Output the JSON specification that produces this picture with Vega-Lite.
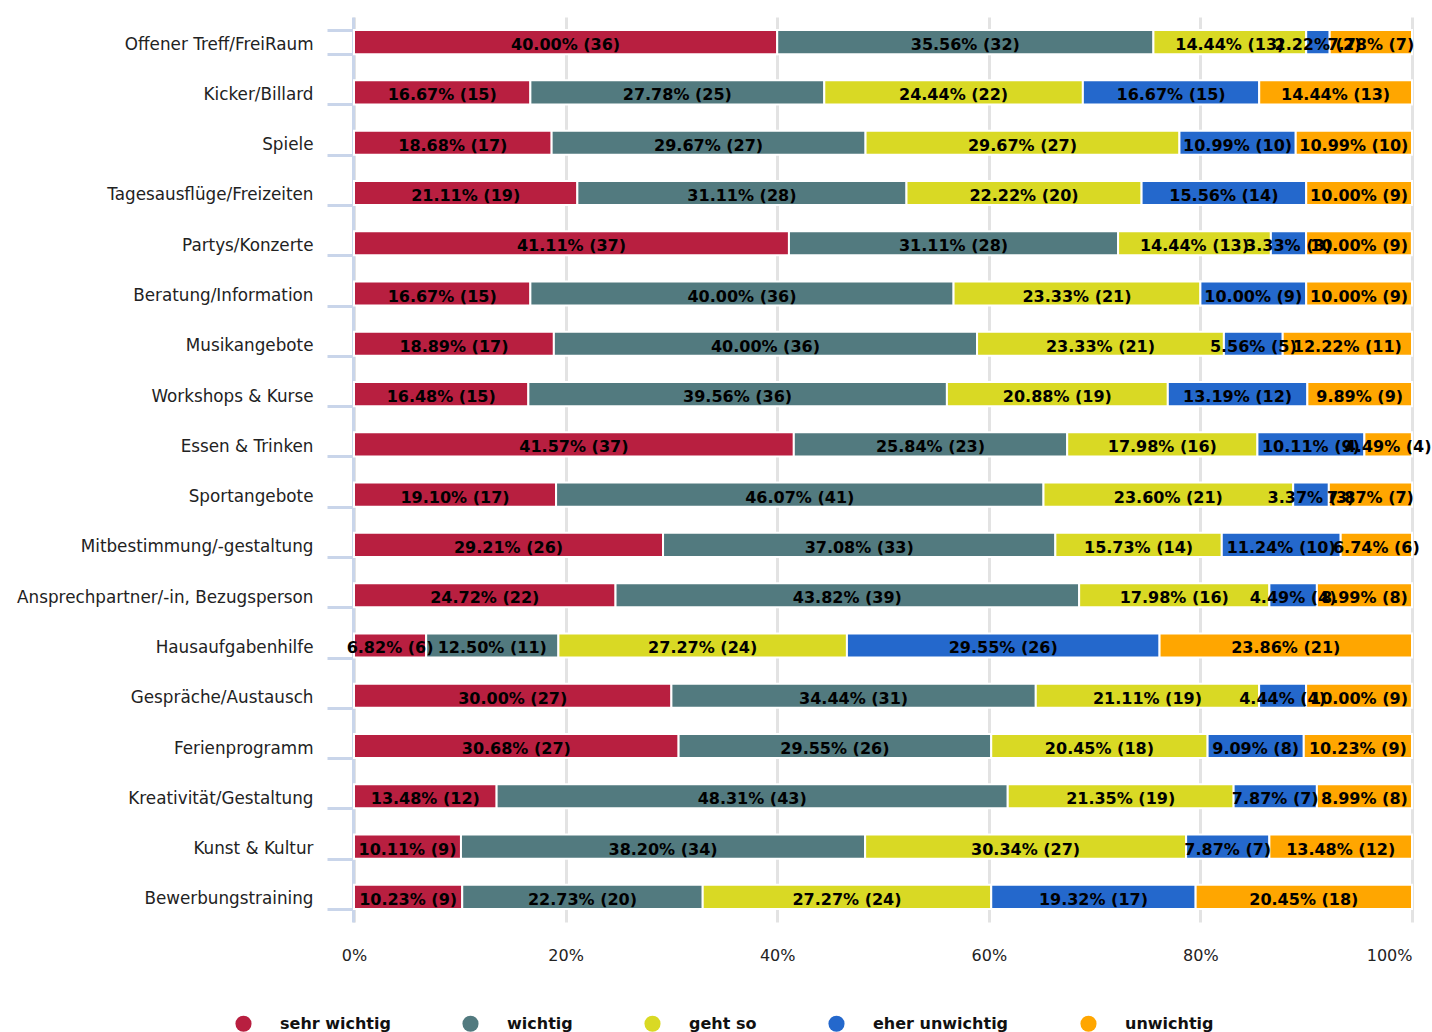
{
  "$schema": "https://vega.github.io/schema/vega-lite/v6.json",
  "width": 1058,
  "height": 905,
  "autosize": {"type": "none"},
  "padding": {"left": 354, "top": 17, "right": 20, "bottom": 110},
  "background": "white",
  "config": {"view": {"stroke": null}},
  "data": {
    "values": [
      {"cat": "Offener Treff/FreiRaum", "r": 1, "resp": "sehr wichtig", "o": 1, "pct": 40.00, "n": 36},
      {"cat": "Offener Treff/FreiRaum", "r": 1, "resp": "wichtig", "o": 2, "pct": 35.56, "n": 32},
      {"cat": "Offener Treff/FreiRaum", "r": 1, "resp": "geht so", "o": 3, "pct": 14.44, "n": 13},
      {"cat": "Offener Treff/FreiRaum", "r": 1, "resp": "eher unwichtig", "o": 4, "pct": 2.22, "n": 2},
      {"cat": "Offener Treff/FreiRaum", "r": 1, "resp": "unwichtig", "o": 5, "pct": 7.78, "n": 7},
      {"cat": "Kicker/Billard", "r": 2, "resp": "sehr wichtig", "o": 1, "pct": 16.67, "n": 15},
      {"cat": "Kicker/Billard", "r": 2, "resp": "wichtig", "o": 2, "pct": 27.78, "n": 25},
      {"cat": "Kicker/Billard", "r": 2, "resp": "geht so", "o": 3, "pct": 24.44, "n": 22},
      {"cat": "Kicker/Billard", "r": 2, "resp": "eher unwichtig", "o": 4, "pct": 16.67, "n": 15},
      {"cat": "Kicker/Billard", "r": 2, "resp": "unwichtig", "o": 5, "pct": 14.44, "n": 13},
      {"cat": "Spiele", "r": 3, "resp": "sehr wichtig", "o": 1, "pct": 18.68, "n": 17},
      {"cat": "Spiele", "r": 3, "resp": "wichtig", "o": 2, "pct": 29.67, "n": 27},
      {"cat": "Spiele", "r": 3, "resp": "geht so", "o": 3, "pct": 29.67, "n": 27},
      {"cat": "Spiele", "r": 3, "resp": "eher unwichtig", "o": 4, "pct": 10.99, "n": 10},
      {"cat": "Spiele", "r": 3, "resp": "unwichtig", "o": 5, "pct": 10.99, "n": 10},
      {"cat": "Tagesausflüge/Freizeiten", "r": 4, "resp": "sehr wichtig", "o": 1, "pct": 21.11, "n": 19},
      {"cat": "Tagesausflüge/Freizeiten", "r": 4, "resp": "wichtig", "o": 2, "pct": 31.11, "n": 28},
      {"cat": "Tagesausflüge/Freizeiten", "r": 4, "resp": "geht so", "o": 3, "pct": 22.22, "n": 20},
      {"cat": "Tagesausflüge/Freizeiten", "r": 4, "resp": "eher unwichtig", "o": 4, "pct": 15.56, "n": 14},
      {"cat": "Tagesausflüge/Freizeiten", "r": 4, "resp": "unwichtig", "o": 5, "pct": 10.00, "n": 9},
      {"cat": "Partys/Konzerte", "r": 5, "resp": "sehr wichtig", "o": 1, "pct": 41.11, "n": 37},
      {"cat": "Partys/Konzerte", "r": 5, "resp": "wichtig", "o": 2, "pct": 31.11, "n": 28},
      {"cat": "Partys/Konzerte", "r": 5, "resp": "geht so", "o": 3, "pct": 14.44, "n": 13},
      {"cat": "Partys/Konzerte", "r": 5, "resp": "eher unwichtig", "o": 4, "pct": 3.33, "n": 3},
      {"cat": "Partys/Konzerte", "r": 5, "resp": "unwichtig", "o": 5, "pct": 10.00, "n": 9},
      {"cat": "Beratung/Information", "r": 6, "resp": "sehr wichtig", "o": 1, "pct": 16.67, "n": 15},
      {"cat": "Beratung/Information", "r": 6, "resp": "wichtig", "o": 2, "pct": 40.00, "n": 36},
      {"cat": "Beratung/Information", "r": 6, "resp": "geht so", "o": 3, "pct": 23.33, "n": 21},
      {"cat": "Beratung/Information", "r": 6, "resp": "eher unwichtig", "o": 4, "pct": 10.00, "n": 9},
      {"cat": "Beratung/Information", "r": 6, "resp": "unwichtig", "o": 5, "pct": 10.00, "n": 9},
      {"cat": "Musikangebote", "r": 7, "resp": "sehr wichtig", "o": 1, "pct": 18.89, "n": 17},
      {"cat": "Musikangebote", "r": 7, "resp": "wichtig", "o": 2, "pct": 40.00, "n": 36},
      {"cat": "Musikangebote", "r": 7, "resp": "geht so", "o": 3, "pct": 23.33, "n": 21},
      {"cat": "Musikangebote", "r": 7, "resp": "eher unwichtig", "o": 4, "pct": 5.56, "n": 5},
      {"cat": "Musikangebote", "r": 7, "resp": "unwichtig", "o": 5, "pct": 12.22, "n": 11},
      {"cat": "Workshops & Kurse", "r": 8, "resp": "sehr wichtig", "o": 1, "pct": 16.48, "n": 15},
      {"cat": "Workshops & Kurse", "r": 8, "resp": "wichtig", "o": 2, "pct": 39.56, "n": 36},
      {"cat": "Workshops & Kurse", "r": 8, "resp": "geht so", "o": 3, "pct": 20.88, "n": 19},
      {"cat": "Workshops & Kurse", "r": 8, "resp": "eher unwichtig", "o": 4, "pct": 13.19, "n": 12},
      {"cat": "Workshops & Kurse", "r": 8, "resp": "unwichtig", "o": 5, "pct": 9.89, "n": 9},
      {"cat": "Essen & Trinken", "r": 9, "resp": "sehr wichtig", "o": 1, "pct": 41.57, "n": 37},
      {"cat": "Essen & Trinken", "r": 9, "resp": "wichtig", "o": 2, "pct": 25.84, "n": 23},
      {"cat": "Essen & Trinken", "r": 9, "resp": "geht so", "o": 3, "pct": 17.98, "n": 16},
      {"cat": "Essen & Trinken", "r": 9, "resp": "eher unwichtig", "o": 4, "pct": 10.11, "n": 9},
      {"cat": "Essen & Trinken", "r": 9, "resp": "unwichtig", "o": 5, "pct": 4.49, "n": 4},
      {"cat": "Sportangebote", "r": 10, "resp": "sehr wichtig", "o": 1, "pct": 19.10, "n": 17},
      {"cat": "Sportangebote", "r": 10, "resp": "wichtig", "o": 2, "pct": 46.07, "n": 41},
      {"cat": "Sportangebote", "r": 10, "resp": "geht so", "o": 3, "pct": 23.60, "n": 21},
      {"cat": "Sportangebote", "r": 10, "resp": "eher unwichtig", "o": 4, "pct": 3.37, "n": 3},
      {"cat": "Sportangebote", "r": 10, "resp": "unwichtig", "o": 5, "pct": 7.87, "n": 7},
      {"cat": "Mitbestimmung/-gestaltung", "r": 11, "resp": "sehr wichtig", "o": 1, "pct": 29.21, "n": 26},
      {"cat": "Mitbestimmung/-gestaltung", "r": 11, "resp": "wichtig", "o": 2, "pct": 37.08, "n": 33},
      {"cat": "Mitbestimmung/-gestaltung", "r": 11, "resp": "geht so", "o": 3, "pct": 15.73, "n": 14},
      {"cat": "Mitbestimmung/-gestaltung", "r": 11, "resp": "eher unwichtig", "o": 4, "pct": 11.24, "n": 10},
      {"cat": "Mitbestimmung/-gestaltung", "r": 11, "resp": "unwichtig", "o": 5, "pct": 6.74, "n": 6},
      {"cat": "Ansprechpartner/-in, Bezugsperson", "r": 12, "resp": "sehr wichtig", "o": 1, "pct": 24.72, "n": 22},
      {"cat": "Ansprechpartner/-in, Bezugsperson", "r": 12, "resp": "wichtig", "o": 2, "pct": 43.82, "n": 39},
      {"cat": "Ansprechpartner/-in, Bezugsperson", "r": 12, "resp": "geht so", "o": 3, "pct": 17.98, "n": 16},
      {"cat": "Ansprechpartner/-in, Bezugsperson", "r": 12, "resp": "eher unwichtig", "o": 4, "pct": 4.49, "n": 4},
      {"cat": "Ansprechpartner/-in, Bezugsperson", "r": 12, "resp": "unwichtig", "o": 5, "pct": 8.99, "n": 8},
      {"cat": "Hausaufgabenhilfe", "r": 13, "resp": "sehr wichtig", "o": 1, "pct": 6.82, "n": 6},
      {"cat": "Hausaufgabenhilfe", "r": 13, "resp": "wichtig", "o": 2, "pct": 12.50, "n": 11},
      {"cat": "Hausaufgabenhilfe", "r": 13, "resp": "geht so", "o": 3, "pct": 27.27, "n": 24},
      {"cat": "Hausaufgabenhilfe", "r": 13, "resp": "eher unwichtig", "o": 4, "pct": 29.55, "n": 26},
      {"cat": "Hausaufgabenhilfe", "r": 13, "resp": "unwichtig", "o": 5, "pct": 23.86, "n": 21},
      {"cat": "Gespräche/Austausch", "r": 14, "resp": "sehr wichtig", "o": 1, "pct": 30.00, "n": 27},
      {"cat": "Gespräche/Austausch", "r": 14, "resp": "wichtig", "o": 2, "pct": 34.44, "n": 31},
      {"cat": "Gespräche/Austausch", "r": 14, "resp": "geht so", "o": 3, "pct": 21.11, "n": 19},
      {"cat": "Gespräche/Austausch", "r": 14, "resp": "eher unwichtig", "o": 4, "pct": 4.44, "n": 4},
      {"cat": "Gespräche/Austausch", "r": 14, "resp": "unwichtig", "o": 5, "pct": 10.00, "n": 9},
      {"cat": "Ferienprogramm", "r": 15, "resp": "sehr wichtig", "o": 1, "pct": 30.68, "n": 27},
      {"cat": "Ferienprogramm", "r": 15, "resp": "wichtig", "o": 2, "pct": 29.55, "n": 26},
      {"cat": "Ferienprogramm", "r": 15, "resp": "geht so", "o": 3, "pct": 20.45, "n": 18},
      {"cat": "Ferienprogramm", "r": 15, "resp": "eher unwichtig", "o": 4, "pct": 9.09, "n": 8},
      {"cat": "Ferienprogramm", "r": 15, "resp": "unwichtig", "o": 5, "pct": 10.23, "n": 9},
      {"cat": "Kreativität/Gestaltung", "r": 16, "resp": "sehr wichtig", "o": 1, "pct": 13.48, "n": 12},
      {"cat": "Kreativität/Gestaltung", "r": 16, "resp": "wichtig", "o": 2, "pct": 48.31, "n": 43},
      {"cat": "Kreativität/Gestaltung", "r": 16, "resp": "geht so", "o": 3, "pct": 21.35, "n": 19},
      {"cat": "Kreativität/Gestaltung", "r": 16, "resp": "eher unwichtig", "o": 4, "pct": 7.87, "n": 7},
      {"cat": "Kreativität/Gestaltung", "r": 16, "resp": "unwichtig", "o": 5, "pct": 8.99, "n": 8},
      {"cat": "Kunst & Kultur", "r": 17, "resp": "sehr wichtig", "o": 1, "pct": 10.11, "n": 9},
      {"cat": "Kunst & Kultur", "r": 17, "resp": "wichtig", "o": 2, "pct": 38.20, "n": 34},
      {"cat": "Kunst & Kultur", "r": 17, "resp": "geht so", "o": 3, "pct": 30.34, "n": 27},
      {"cat": "Kunst & Kultur", "r": 17, "resp": "eher unwichtig", "o": 4, "pct": 7.87, "n": 7},
      {"cat": "Kunst & Kultur", "r": 17, "resp": "unwichtig", "o": 5, "pct": 13.48, "n": 12},
      {"cat": "Bewerbungstraining", "r": 18, "resp": "sehr wichtig", "o": 1, "pct": 10.23, "n": 9},
      {"cat": "Bewerbungstraining", "r": 18, "resp": "wichtig", "o": 2, "pct": 22.73, "n": 20},
      {"cat": "Bewerbungstraining", "r": 18, "resp": "geht so", "o": 3, "pct": 27.27, "n": 24},
      {"cat": "Bewerbungstraining", "r": 18, "resp": "eher unwichtig", "o": 4, "pct": 19.32, "n": 17},
      {"cat": "Bewerbungstraining", "r": 18, "resp": "unwichtig", "o": 5, "pct": 20.45, "n": 18}
    ]
  },
  "transform": [
    {"stack": "pct", "groupby": ["cat"], "sort": [{"field": "o", "order": "ascending"}], "as": ["x0", "x1"]},
    {"calculate": "(datum.x0 + datum.x1) / 2", "as": "xm"},
    {"calculate": "format(datum.pct, '.2f') + '% (' + datum.n + ')'", "as": "label"}
  ],
  "encoding": {
    "y": {
      "field": "cat",
      "type": "nominal",
      "sort": {"field": "r", "order": "ascending"},
      "scale": {"paddingInner": 0.52, "paddingOuter": 0.26},
      "axis": {
        "title": null,
        "domainColor": "#c9d5ea",
        "domainWidth": 3,
        "tickColor": "#c9d5ea",
        "tickWidth": 3,
        "tickSize": 26,
        "tickBand": "extent",
        "labelPadding": 14,
        "labelFont": "DejaVu Sans",
        "labelFontSize": 16.8,
        "labelLimit": 0,
        "labelColor": "#222222",
        "labelBaseline": "middle",
        "labelOffset": 2,
        "grid": false,
        "offset": 1
      }
    }
  },
  "layer": [
    {
      "mark": {"type": "bar", "stroke": "white", "strokeWidth": 2},
      "encoding": {
        "x": {
          "field": "x0",
          "type": "quantitative",
          "scale": {"domain": [0, 100], "nice": false},
          "axis": {
            "title": null,
            "values": [0, 20, 40, 60, 80, 100],
            "labelExpr": "datum.value + '%'",
            "domain": false,
            "ticks": false,
            "grid": true,
            "gridColor": "#e3e3e3",
            "gridWidth": 3,
            "labelPadding": 25,
            "labelFont": "DejaVu Sans",
            "labelFontSize": 16,
            "labelColor": "#222222",
            "labelFlush": false,
            "labelAlign": {"condition": {"test": "datum.value == 100", "value": "right"}, "value": "center"}
          }
        },
        "x2": {"field": "x1"},
        "color": {
          "field": "resp",
          "type": "nominal",
          "scale": {
            "domain": ["sehr wichtig", "wichtig", "geht so", "eher unwichtig", "unwichtig"],
            "range": ["#b81f40", "#527a7f", "#d9d924", "#2468cc", "#ffa600"]
          },
          "legend": {
            "title": null,
            "orient": "none",
            "direction": "horizontal",
            "legendX": -119,
            "legendY": 998,
            "symbolType": "circle",
            "symbolSize": 260,
            "symbolStrokeWidth": 0,
            "labelFont": "DejaVu Sans",
            "labelFontWeight": "bold",
            "labelFontSize": 16,
            "labelColor": "#111111",
            "labelOffset": 28,
            "columnPadding": 71,
            "symbolOffset": 0
          }
        }
      }
    },
    {
      "mark": {"type": "text", "font": "DejaVu Sans", "fontWeight": "bold", "fontSize": 16, "color": "#000000", "baseline": "middle", "dy": 3},
      "encoding": {
        "x": {"field": "xm", "type": "quantitative"},
        "text": {"field": "label", "type": "nominal"}
      }
    }
  ]
}
